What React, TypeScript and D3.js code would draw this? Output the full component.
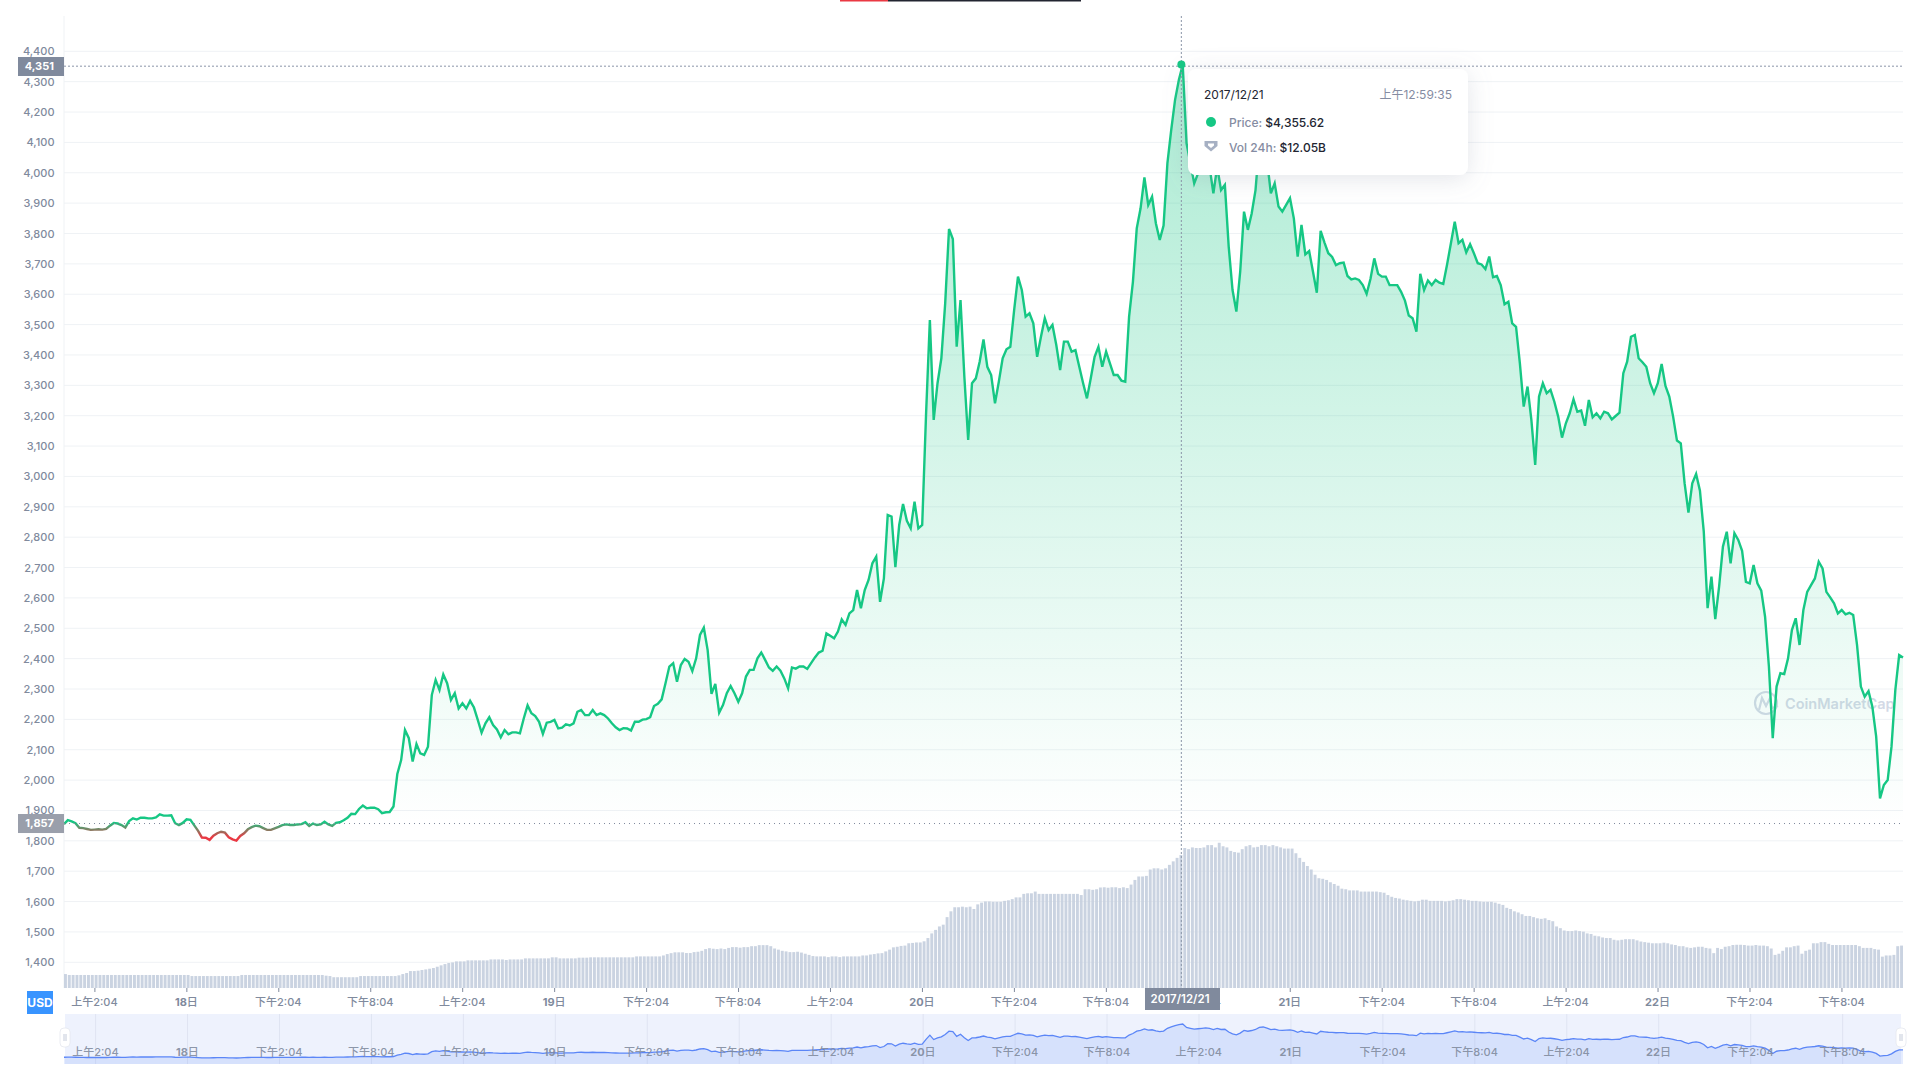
import { useEffect, useRef } from 'react';
import * as d3 from 'd3';

const FONT = 'Inter, "Noto Sans CJK SC", sans-serif';

const yTicks = [1400, 1500, 1600, 1700, 1800, 1900, 2000, 2100, 2200, 2300, 2400, 2500, 2600, 2700, 2800, 2900, 3000, 3100, 3200, 3300, 3400, 3500, 3600, 3700, 3800, 3900, 4000, 4100, 4200, 4300, 4400];
const xTickLabels = ['上午2:04', '18日', '下午2:04', '下午8:04', '上午2:04', '19日', '下午2:04', '下午8:04', '上午2:04', '20日', '下午2:04', '下午8:04', '上午2:04', '21日', '下午2:04', '下午8:04', '上午2:04', '22日', '下午2:04', '下午8:04'];

const baseline = 1857;
const hoverPrice = 4351;

// price every 15 minutes, one list per day of the window
const priceDay1 = [1855, 1868, 1864, 1858, 1843, 1842, 1839, 1836, 1837, 1838, 1837, 1839, 1850, 1859, 1857, 1852, 1844, 1865, 1874, 1870, 1876, 1876, 1874, 1874, 1877, 1887, 1883, 1883, 1884, 1858, 1852, 1859, 1871, 1869, 1851, 1833, 1811, 1810, 1803, 1817, 1825, 1830, 1827, 1812, 1805, 1801, 1816, 1825, 1838, 1845, 1850, 1848, 1842, 1836, 1836, 1841, 1846, 1852, 1854, 1852, 1852, 1854, 1855, 1861, 1849, 1857, 1852, 1854, 1863, 1854, 1849, 1859, 1861, 1868, 1876, 1889, 1888, 1905, 1916, 1907, 1909, 1909, 1904, 1891, 1894, 1895, 1913, 2020, 2066, 2165, 2138, 2061, 2119, 2088, 2083, 2110];
const priceDay2 = [2280, 2330, 2297, 2348, 2319, 2264, 2286, 2236, 2253, 2236, 2261, 2239, 2198, 2156, 2187, 2207, 2181, 2167, 2141, 2165, 2151, 2157, 2157, 2154, 2203, 2246, 2220, 2211, 2192, 2152, 2189, 2192, 2198, 2170, 2173, 2184, 2180, 2187, 2225, 2231, 2214, 2214, 2231, 2214, 2220, 2214, 2203, 2187, 2174, 2165, 2171, 2170, 2163, 2192, 2192, 2199, 2201, 2207, 2244, 2251, 2266, 2319, 2374, 2385, 2324, 2379, 2399, 2390, 2359, 2401, 2478, 2502, 2428, 2284, 2317, 2222, 2247, 2286, 2310, 2286, 2258, 2286, 2341, 2363, 2363, 2401, 2420, 2396, 2371, 2360, 2374, 2360, 2335, 2302, 2371, 2367];
const priceDay3 = [2374, 2374, 2366, 2385, 2404, 2420, 2426, 2483, 2475, 2467, 2489, 2529, 2511, 2549, 2560, 2626, 2566, 2626, 2659, 2714, 2736, 2587, 2664, 2873, 2868, 2701, 2840, 2909, 2854, 2829, 2917, 2829, 2840, 3202, 3515, 3186, 3307, 3389, 3570, 3815, 3782, 3427, 3581, 3329, 3120, 3307, 3323, 3378, 3451, 3361, 3334, 3241, 3312, 3389, 3419, 3427, 3548, 3658, 3614, 3526, 3537, 3504, 3394, 3460, 3521, 3482, 3499, 3433, 3350, 3444, 3444, 3411, 3416, 3361, 3307, 3257, 3323, 3394, 3427, 3361, 3411, 3372, 3334, 3334, 3315, 3312, 3526, 3641, 3817, 3883, 3985, 3894, 3921, 3833, 3779, 3826];
const priceDay4 = [4031, 4141, 4240, 4306, 4355.62, 4097, 4031, 3965, 3998, 4031, 4064, 4020, 3932, 4020, 3943, 3960, 3757, 3614, 3543, 3674, 3872, 3812, 3866, 3943, 4097, 4130, 4042, 3932, 3965, 3889, 3872, 3894, 3916, 3850, 3724, 3828, 3731, 3742, 3674, 3605, 3809, 3770, 3735, 3723, 3696, 3702, 3704, 3660, 3649, 3652, 3647, 3630, 3601, 3650, 3718, 3667, 3658, 3658, 3630, 3630, 3630, 3608, 3579, 3530, 3521, 3477, 3667, 3614, 3645, 3630, 3647, 3638, 3634, 3698, 3768, 3839, 3768, 3779, 3738, 3765, 3735, 3702, 3698, 3683, 3724, 3656, 3660, 3630, 3567, 3575, 3504, 3493, 3372, 3230, 3296, 3186];
const priceDay5 = [3038, 3263, 3307, 3274, 3285, 3246, 3197, 3128, 3175, 3208, 3254, 3213, 3217, 3167, 3252, 3195, 3208, 3191, 3213, 3208, 3188, 3199, 3210, 3340, 3378, 3460, 3466, 3389, 3376, 3361, 3307, 3274, 3307, 3370, 3298, 3263, 3197, 3118, 3109, 2977, 2881, 2977, 3008, 2953, 2818, 2566, 2670, 2530, 2637, 2769, 2818, 2714, 2813, 2791, 2755, 2653, 2648, 2708, 2648, 2624, 2538, 2374, 2138, 2308, 2352, 2349, 2401, 2494, 2533, 2445, 2560, 2620, 2642, 2664, 2719, 2697, 2620, 2602, 2582, 2549, 2560, 2546, 2551, 2544, 2445, 2308, 2275, 2293, 2242, 2143, 1940, 1984, 2000, 2110, 2297, 2412, 2404];

// 24h volume in $B, one bar per 15 minutes
const volDay1 = [1.2, 1.12, 1.12, 1.12, 1.12, 1.12, 1.12, 1.12, 1.12, 1.12, 1.12, 1.12, 1.12, 1.12, 1.12, 1.12, 1.12, 1.12, 1.12, 1.12, 1.12, 1.12, 1.12, 1.12, 1.12, 1.12, 1.12, 1.12, 1.12, 1.12, 1.12, 1.12, 1.12, 1.03, 1.03, 1.03, 1.03, 1.03, 1.03, 1.03, 1.03, 1.03, 1.03, 1.03, 1.03, 1.03, 1.12, 1.12, 1.12, 1.12, 1.12, 1.12, 1.12, 1.12, 1.12, 1.12, 1.12, 1.12, 1.12, 1.12, 1.12, 1.12, 1.12, 1.12, 1.12, 1.12, 1.12, 1.12, 1.06, 1.03, 0.93, 0.93, 0.93, 0.93, 0.93, 0.93, 0.93, 1.03, 1.03, 1.03, 1.03, 1.03, 1.03, 1.03, 1.03, 1.03, 1.03, 1.09, 1.2, 1.29, 1.46, 1.46, 1.49, 1.55, 1.6, 1.66];
const volDay2 = [1.72, 1.83, 1.95, 2.06, 2.15, 2.2, 2.29, 2.29, 2.29, 2.38, 2.38, 2.38, 2.38, 2.38, 2.38, 2.46, 2.46, 2.46, 2.46, 2.41, 2.46, 2.46, 2.46, 2.46, 2.55, 2.55, 2.55, 2.55, 2.55, 2.55, 2.55, 2.64, 2.64, 2.55, 2.55, 2.55, 2.55, 2.55, 2.61, 2.61, 2.61, 2.64, 2.64, 2.64, 2.64, 2.64, 2.64, 2.64, 2.64, 2.64, 2.64, 2.64, 2.64, 2.72, 2.72, 2.72, 2.72, 2.72, 2.72, 2.72, 2.8, 2.92, 3, 3.07, 3.07, 3.07, 3.01, 3.01, 3.09, 3.12, 3.2, 3.35, 3.43, 3.38, 3.35, 3.4, 3.35, 3.45, 3.52, 3.52, 3.47, 3.52, 3.52, 3.6, 3.6, 3.69, 3.69, 3.69, 3.6, 3.4, 3.3, 3.2, 3.15, 3.09, 3.09, 3.12];
const volDay3 = [3.05, 2.95, 2.85, 2.75, 2.72, 2.72, 2.72, 2.66, 2.72, 2.72, 2.66, 2.72, 2.72, 2.72, 2.72, 2.72, 2.8, 2.8, 2.88, 2.92, 2.98, 3, 3.15, 3.3, 3.5, 3.55, 3.62, 3.65, 3.85, 3.88, 3.92, 3.92, 4.02, 4.3, 4.7, 5, 5.3, 5.45, 6.1, 6.6, 6.95, 6.95, 7, 6.95, 7, 6.8, 7.2, 7.35, 7.45, 7.45, 7.42, 7.42, 7.42, 7.5, 7.55, 7.65, 7.8, 7.8, 8.1, 8.15, 8.15, 8.3, 8.1, 8.1, 8.1, 8.1, 8.1, 8.1, 8.1, 8.1, 8.1, 8.1, 8.1, 8, 8.5, 8.5, 8.45, 8.5, 8.65, 8.67, 8.63, 8.67, 8.67, 8.6, 8.67, 8.6, 8.9, 9.3, 9.6, 9.6, 9.65, 10.2, 10.3, 10.3, 10.2, 10.3];
const volDay4 = [10.6, 10.9, 11.2, 11.45, 12.05, 11.95, 12.1, 12.05, 12.05, 12.1, 12.3, 12.3, 12.1, 12.5, 12.2, 12.1, 11.8, 11.7, 11.65, 11.95, 12.2, 12.3, 12.1, 12.15, 12.3, 12.3, 12.2, 12.3, 12.2, 12.1, 12, 12, 12, 11.6, 11.2, 10.85, 10.5, 10.2, 9.75, 9.45, 9.4, 9.3, 9.1, 8.95, 8.8, 8.55, 8.5, 8.4, 8.4, 8.4, 8.3, 8.3, 8.3, 8.3, 8.3, 8.25, 8.2, 8, 7.85, 7.75, 7.7, 7.6, 7.55, 7.5, 7.45, 7.5, 7.6, 7.6, 7.5, 7.5, 7.5, 7.5, 7.45, 7.5, 7.55, 7.65, 7.65, 7.6, 7.55, 7.5, 7.5, 7.45, 7.42, 7.42, 7.42, 7.35, 7.25, 7.15, 6.9, 6.8, 6.6, 6.5, 6.35, 6.2, 6.2, 6.1];
const volDay5 = [6, 5.95, 6, 5.85, 5.75, 5.3, 5.15, 4.95, 4.9, 4.9, 4.95, 4.9, 4.85, 4.7, 4.65, 4.5, 4.45, 4.35, 4.3, 4.3, 4.15, 4.1, 4.15, 4.2, 4.2, 4.2, 4.1, 4, 3.95, 3.9, 3.85, 3.85, 3.85, 3.9, 3.85, 3.75, 3.7, 3.6, 3.6, 3.5, 3.45, 3.5, 3.55, 3.55, 3.45, 3.4, 3, 3.45, 3.35, 3.55, 3.6, 3.7, 3.72, 3.72, 3.7, 3.65, 3.65, 3.7, 3.65, 3.65, 3.6, 3.4, 2.85, 2.95, 3.2, 3.5, 3.5, 3.6, 3.65, 2.95, 3.2, 3.3, 3.85, 3.85, 3.95, 3.95, 3.8, 3.7, 3.7, 3.7, 3.7, 3.7, 3.7, 3.7, 3.6, 3.45, 3.45, 3.45, 3.35, 3.3, 2.7, 2.8, 2.8, 2.85, 3.6, 3.65];

const prices = [...priceDay1, ...priceDay2, ...priceDay3, ...priceDay4, ...priceDay5];
const volumes = [...volDay1, ...volDay2, ...volDay3, ...volDay4, ...volDay5];

const startTime = Date.UTC(2017, 11, 18, 0, 5);
const firstTick = Date.UTC(2017, 11, 18, 2, 4);
const hoverTime = Date.UTC(2017, 11, 21, 0, 59, 35);
const HOUR = 3600000;

const priceTimes = prices.map((_, i) => new Date(startTime + i * HOUR / 4));
const tickTimes = xTickLabels.map((_, i) => new Date(firstTick + i * 6 * HOUR));

export default function App() {
  const svgRef = useRef<SVGSVGElement>(null);

  useEffect(() => {
    if (!svgRef.current) return;
    const svg = d3.select(svgRef.current);
    svg.selectAll('*').remove();

    const left = 64;
    const right = 1903;
    const bottom = 988;
    const gray = '#808a9d';
    const green = '#16c784';

    const x = d3.scaleUtc()
      .domain([new Date(startTime), new Date(startTime + 120 * HOUR)])
      .range([left, right]);
    const y = d3.scaleLinear().domain([1400, 4400]).range([962.3, 51.3]);
    const vol = d3.scaleLinear().domain([0, 12.05]).range([bottom, 848]);
    const band = d3.scaleBand<number>().domain(d3.range(volumes.length)).range([left, right]).paddingInner(0.24);
    const navY = d3.scaleLinear().domain([1800, 4355]).range([1058, 1024]);

    const defs = svg.append('defs');
    const fillGrad = defs.append('linearGradient').attr('id', 'priceFill')
      .attr('gradientUnits', 'userSpaceOnUse')
      .attr('x1', 0).attr('x2', 0).attr('y1', y(4351)).attr('y2', y(baseline));
    fillGrad.append('stop').attr('offset', 0).attr('stop-color', green).attr('stop-opacity', 0.36);
    fillGrad.append('stop').attr('offset', 1).attr('stop-color', green).attr('stop-opacity', 0);

    const lineGrad = defs.append('linearGradient').attr('id', 'priceStroke')
      .attr('gradientUnits', 'userSpaceOnUse')
      .attr('x1', 0).attr('x2', 0).attr('y1', y(1862)).attr('y2', y(1812));
    lineGrad.append('stop').attr('offset', 0).attr('stop-color', green);
    lineGrad.append('stop').attr('offset', 1).attr('stop-color', '#ea3943');

    const shadow = defs.append('filter').attr('id', 'tipShadow')
      .attr('x', '-20%').attr('y', '-30%').attr('width', '140%').attr('height', '170%');
    shadow.append('feDropShadow').attr('dx', 0).attr('dy', 4).attr('stdDeviation', 12)
      .attr('flood-color', '#808a9d').attr('flood-opacity', 0.22);

    // top strip of the page
    svg.append('rect').attr('x', 840).attr('y', 0).attr('width', 48).attr('height', 1.5).attr('fill', '#ea3943');
    svg.append('rect').attr('x', 888).attr('y', 0).attr('width', 193).attr('height', 1.5).attr('fill', '#222531');

    // grid
    svg.append('g').selectAll('line').data(yTicks).join('line')
      .attr('x1', left).attr('x2', right)
      .attr('y1', d => y(d)).attr('y2', d => y(d))
      .attr('stroke', '#eff2f5');
    svg.append('line').attr('x1', left).attr('x2', left).attr('y1', 16).attr('y2', bottom).attr('stroke', '#eff2f5');

    // y axis
    const yAxis = svg.append('g').attr('transform', `translate(${left - 9.5},0)`)
      .call(d3.axisLeft(y).tickValues(yTicks).tickFormat(d3.format(',') as any).tickSize(0).tickPadding(0));
    yAxis.select('.domain').remove();
    yAxis.selectAll('text').attr('fill', gray).attr('font-size', 11).attr('font-weight', 500).attr('font-family', FONT);

    // volume
    svg.append('g').selectAll('rect').data(volumes).join('rect')
      .attr('x', (_, i) => band(i)!)
      .attr('width', band.bandwidth())
      .attr('y', d => vol(d))
      .attr('height', d => bottom - vol(d))
      .attr('fill', '#c4cede')
      .attr('fill-opacity', 0.9);

    // watermark
    const mark = svg.append('g').attr('fill', 'none').attr('stroke', '#d3d9e6').attr('stroke-width', 2.2);
    mark.append('circle').attr('cx', 1766).attr('cy', 703).attr('r', 11);
    mark.append('path').attr('d', 'M1759 710 L1762 698 L1766 706 L1770 698 L1772 708 L1778 706');
    svg.append('text').attr('x', 1785).attr('y', 708.5).text('CoinMarketCap')
      .attr('fill', '#d3d9e6').attr('font-size', 14.5).attr('font-weight', 600).attr('font-family', FONT);

    // price area and line
    const area = d3.area<number>()
      .x((_, i) => x(priceTimes[i]))
      .y0(y(baseline))
      .y1(d => Math.min(y(d), y(baseline)));
    svg.append('path').datum(prices).attr('d', area).attr('fill', 'url(#priceFill)');

    const line = d3.line<number>()
      .x((_, i) => x(priceTimes[i]))
      .y(d => y(d));
    svg.append('path').datum(prices).attr('d', line)
      .attr('fill', 'none').attr('stroke', 'url(#priceStroke)').attr('stroke-width', 2.4);

    // baseline
    svg.append('line').attr('x1', left).attr('x2', right).attr('y1', y(baseline)).attr('y2', y(baseline))
      .attr('stroke', '#808a9d').attr('stroke-dasharray', '1 4');
    svg.append('rect').attr('x', 18).attr('y', y(baseline) - 9.5).attr('width', 46).attr('height', 19).attr('fill', '#9a9fab');
    svg.append('text').attr('x', 54).attr('y', y(baseline)).attr('dy', '0.35em').attr('text-anchor', 'end')
      .text(d3.format(',')(baseline)).attr('fill', '#fff').attr('font-size', 11).attr('font-weight', 700).attr('font-family', FONT);

    // x axis
    const xAxis = svg.append('g').attr('transform', `translate(0,${bottom})`)
      .call(d3.axisBottom(x).tickValues(tickTimes).tickSize(4).tickPadding(4).tickFormat(() => ''));
    xAxis.select('.domain').remove();
    xAxis.selectAll('line').attr('stroke', gray);

    const tickText = (g: any, dx: number, yPos: number, opacity: number) => {
      g.selectAll('text').data(xTickLabels).join('text')
        .attr('x', (_: string, i: number) => x(tickTimes[i]) + dx)
        .attr('y', yPos)
        .attr('dy', '0.35em')
        .attr('text-anchor', 'middle')
        .attr('fill', gray)
        .attr('fill-opacity', opacity)
        .attr('font-size', 11)
        .attr('font-family', FONT)
        .attr('font-weight', 500)
        .each(function (this: SVGTextElement, d: string) {
          const t = d3.select(this);
          if (d.endsWith('日')) {
            t.append('tspan').attr('font-weight', 700).text(d.slice(0, -1));
            t.append('tspan').text('日');
          } else {
            t.text(d);
          }
        });
    };
    tickText(svg.append('g'), 0, 1002, 1);

    // USD switch
    svg.append('rect').attr('x', 27).attr('y', 991).attr('width', 26).attr('height', 23).attr('fill', '#3894ff');
    svg.append('text').attr('x', 40).attr('y', 1002.5).attr('dy', '0.35em').attr('text-anchor', 'middle')
      .text('USD').attr('fill', '#fff').attr('font-size', 12).attr('font-weight', 700).attr('font-family', FONT);

    // navigator
    svg.append('rect').attr('x', 65).attr('y', 1014).attr('width', 1836).attr('height', 50).attr('fill', '#eef2fd');
    svg.append('g').selectAll('line').data(tickTimes).join('line')
      .attr('x1', d => x(d) + 1.2).attr('x2', d => x(d) + 1.2)
      .attr('y1', 1014).attr('y2', 1064)
      .attr('stroke', '#dfe4f2');
    const navArea = d3.area<number>()
      .x((_, i) => x(priceTimes[i]))
      .y0(1064)
      .y1(d => navY(d));
    svg.append('path').datum(prices).attr('d', navArea).attr('fill', '#5b86f7').attr('fill-opacity', 0.16);
    const navLine = d3.line<number>()
      .x((_, i) => x(priceTimes[i]))
      .y(d => navY(d));
    svg.append('path').datum(prices).attr('d', navLine).attr('fill', 'none').attr('stroke', '#5b86f7').attr('stroke-width', 1.3);
    tickText(svg.append('g'), 1, 1052, 0.9);

    [65, 1901].forEach(cx => {
      const h = svg.append('g');
      h.append('rect').attr('x', cx - 5).attr('y', 1028).attr('width', 10).attr('height', 19).attr('rx', 4)
        .attr('fill', '#fff').attr('stroke', '#e4e7ef').attr('stroke-width', 0.8);
      [-1, 1].forEach(o => {
        h.append('line').attr('x1', cx + o).attr('x2', cx + o).attr('y1', 1034).attr('y2', 1041).attr('stroke', '#c4cbda');
      });
    });

    // crosshair
    const hx = x(new Date(hoverTime));
    svg.append('line').attr('x1', hx).attr('x2', hx).attr('y1', 16).attr('y2', bottom)
      .attr('stroke', '#8a94a8').attr('stroke-dasharray', '2 2');
    svg.append('line').attr('x1', left).attr('x2', right).attr('y1', y(hoverPrice)).attr('y2', y(hoverPrice))
      .attr('stroke', '#8a94a8').attr('stroke-dasharray', '2 2');
    svg.append('circle').attr('cx', hx).attr('cy', 64.5).attr('r', 4).attr('fill', green);

    svg.append('rect').attr('x', 18).attr('y', 57).attr('width', 46).attr('height', 19).attr('fill', gray);
    svg.append('text').attr('x', 54).attr('y', y(hoverPrice)).attr('dy', '0.35em').attr('text-anchor', 'end')
      .text(d3.format(',')(hoverPrice)).attr('fill', '#fff').attr('font-size', 11).attr('font-weight', 700).attr('font-family', FONT);

    svg.append('rect').attr('x', 1145).attr('y', 988).attr('width', 75).attr('height', 22).attr('fill', gray);
    svg.append('text').attr('x', 1180).attr('y', 999).attr('dy', '0.35em').attr('text-anchor', 'middle')
      .text('2017/12/21').attr('fill', '#fff').attr('font-size', 11.5).attr('font-weight', 600).attr('font-family', FONT);

    // tooltip
    const tip = svg.append('g').attr('font-family', FONT).attr('font-size', 12);
    tip.append('rect').attr('x', 1188).attr('y', 69).attr('width', 280).attr('height', 106).attr('rx', 8)
      .attr('fill', '#fff').attr('filter', 'url(#tipShadow)');
    tip.append('text').attr('x', 1204).attr('y', 95).attr('dy', '0.35em').attr('fill', '#222531').text('2017/12/21');
    tip.append('text').attr('x', 1452).attr('y', 95).attr('dy', '0.35em').attr('text-anchor', 'end').attr('fill', '#858ca2').text('上午12:59:35');
    tip.append('circle').attr('cx', 1211).attr('cy', 122).attr('r', 5).attr('fill', green);
    tip.append('path').attr('d', 'M1204.5 141 h13 v5 l-6.5 5.5 l-6.5 -5.5 z').attr('fill', '#a6b0c3');
    tip.append('path').attr('d', 'M1208 143.5 h6 v2 l-3 2.4 l-3 -2.4 z').attr('fill', '#fff');
    const priceRow = tip.append('text').attr('x', 1229).attr('y', 122.5).attr('dy', '0.35em').attr('font-weight', 500);
    priceRow.append('tspan').attr('fill', '#858ca2').text('Price: ');
    priceRow.append('tspan').attr('fill', '#222531').text('$4,355.62');
    const volRow = tip.append('text').attr('x', 1229).attr('y', 147.5).attr('dy', '0.35em').attr('font-weight', 500);
    volRow.append('tspan').attr('fill', '#858ca2').text('Vol 24h: ');
    volRow.append('tspan').attr('fill', '#222531').text('$12.05B');
  }, []);

  return (
    <svg
      ref={svgRef}
      width={1920}
      height={1080}
      style={{ position: 'absolute', left: 0, top: 0, display: 'block', background: '#fff' }}
    />
  );
}
